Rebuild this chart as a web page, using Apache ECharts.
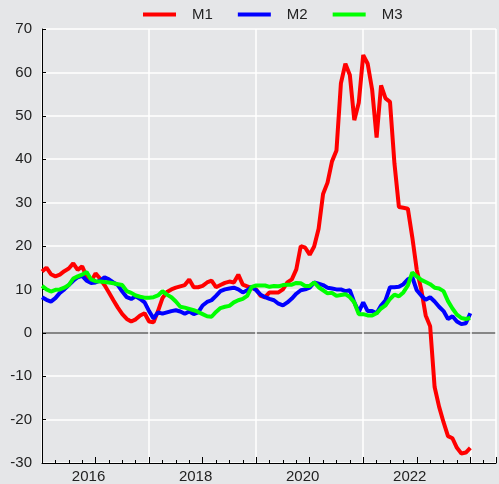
<!DOCTYPE html>
<html>
<head>
<meta charset="utf-8">
<script src="https://cdn.jsdelivr.net/npm/echarts@6/dist/echarts.min.js"></script>
<style>
  html, body { margin: 0; padding: 0; background: #e5e6e8; }
  #chart { width: 499px; height: 484px; }
</style>
</head>
<body>
<div id="chart"></div>
<script>
// monthly values, 2015-01 .. 2023-01
var startYear = 2015;
var yearLabels = [2016, 2018, 2020, 2022];

var m1 = [
  14.1, 15, 13.5, 13, 13.4, 14.2, 14.8, 16, 14.5, 15.3, 13, 11.8,
  13.7, 12.5, 11, 9.3, 7.5, 5.8, 4.3, 3.2, 2.6, 3.1, 4, 4.5,
  2.6, 2.4, 5, 8, 9.4, 10, 10.4, 10.7, 11, 12.3, 10.5, 10.5,
  10.8, 11.6, 12, 10.5, 11, 11.5, 11.8, 11.6, 13.4, 11.1, 10.7, 10.3,
  10, 8.5, 8.2, 9.3, 9.3, 9.3, 10, 11.6, 12.3, 14.6, 20, 19.6,
  18, 19.9, 24, 32, 34.6, 39.5, 42, 57.5, 62, 59.4, 49, 53,
  64, 62, 56, 45, 57, 54, 53.2, 39, 29, 28.8, 28.6, 22,
  14.5, 10, 4, 1.5, -12.5, -17, -20.6, -23.8, -24.3, -26.5, -27.8, -27.6,
  -26.5
];
var m2 = [
  8.2, 7.6, 7.2, 8, 9.2, 10, 11, 12, 12.8, 13.1, 12, 11.5,
  11.6, 12, 12.8, 12.3, 11.6, 11, 9.5, 8.2, 7.8, 8.4, 7.8, 7,
  5, 3.3, 4.7, 4.4, 4.7, 5, 5.2, 4.9, 4.4, 4.9, 4.3, 4.7,
  6.3, 7.1, 7.5, 8.5, 9.6, 10, 10.2, 10.4, 10, 9.3, 9.8, 10.6,
  9.8, 8.8, 8.2, 7.8, 7.5, 6.7, 6.3, 7, 7.9, 9, 9.8, 10,
  10.4, 11.6, 11.3, 11, 10.4, 10.2, 10, 10, 9.6, 9.8, 7, 4.8,
  7, 5, 5, 4.5, 6.3, 7.5, 10.5, 10.5, 10.6, 11.2, 12.3, 12.8,
  9.8, 8.6, 7.6, 8.2, 7.2, 6, 5, 3.2, 3.8, 2.6, 2, 2.2,
  4.5
];
var m3 = [
  10.8, 10, 9.5, 9.9, 10, 10.4, 11, 12.5, 13, 13.4, 14, 12.3,
  11.9, 11.8, 11.7, 11.6, 11.4, 11.2, 11, 9.6, 9.2, 8.6, 8.3, 8.1,
  8.1, 8.2, 8.6, 9.6, 8.8, 8.2, 7.2, 6, 5.8, 5.5, 5.2, 4.8,
  4.3, 3.8, 3.7, 4.8, 5.7, 6, 6.2, 7, 7.5, 7.8, 8.5, 10.6,
  10.9, 10.9, 10.9, 10.6, 10.8, 10.7, 11, 11.1, 11.1, 11.5, 11.4, 10.8,
  10.8, 11.6, 10.5, 9.8, 9.1, 9.2, 8.5, 8.7, 8.9, 8.2, 7, 4.3,
  4.3, 4, 4, 4.5, 5.6, 6.3, 7.8, 8.8, 8.4, 9.3, 10.9, 13.9,
  13, 12.2, 11.7, 11.2, 10.4, 10.2, 9.6, 7.3, 5.6, 4.2, 3.4, 3.2,
  3.4
];

function toPairs(vals) {
  return vals.map(function (v, i) {
    return [startYear + i / 12, v];
  });
}

var chart = echarts.init(document.getElementById('chart'));
var txt = '#222';
var font = 'Liberation Sans';

var opt = {
  backgroundColor: '#e5e6e8',
  animation: false,
  textStyle: { fontFamily: font },
  legend: {
    top: 7,
    left: 143,
    padding: 0,
    icon: 'rect',
    itemWidth: 33,
    itemHeight: 4,
    itemGap: 25,
    textStyle: { fontSize: 15, color: txt, padding: [0, 0, 0, 11] },
    data: ['M1', 'M2', 'M3']
  },
  grid: { left: 42, right: 0, top: 29, bottom: 20 },
  xAxis: [{
    type: 'value',
    min: 2015,
    max: 2023.48,
    interval: 1,
    axisLine: { show: true, onZero: false, lineStyle: { color: '#000', width: 1 } },
    axisTick: { show: true, inside: true, length: 6, lineStyle: { color: '#000' } },
    minorTick: { show: true, splitNumber: 4, length: 3, lineStyle: { color: '#000' } },
    splitLine: { show: false },
    axisLabel: {
      fontSize: 15,
      color: txt,
      margin: 6,
      padding: [0, 14, 0, 0],
      formatter: function (v) {
        return yearLabels.indexOf(v) >= 0 ? String(v) : '';
      }
    }
  }, {
    // only odd-year grid lines
    type: 'value',
    min: 2015,
    max: 2023.48,
    interval: 2,
    position: 'bottom',
    axisLine: { show: false },
    axisTick: { show: false },
    axisLabel: { show: false },
    splitLine: { show: true, lineStyle: { color: '#fff', width: 1.5 } }
  }],
  yAxis: {
    type: 'value',
    min: -30,
    max: 70,
    interval: 10,
    axisLine: { show: true, onZero: false, lineStyle: { color: '#000', width: 1 } },
    axisTick: { show: true, inside: true, length: 4, lineStyle: { color: '#000' } },
    axisLabel: { fontSize: 15, color: txt, margin: 10 },
    splitLine: {
      show: true,
      lineStyle: {
        color: ['#fff', '#fff', '#fff', '#666', '#fff', '#fff', '#fff', '#fff', '#fff', '#fff', '#fff'],
        width: 1.5
      }
    }
  },
  series: [{
    name: 'M1',
    type: 'line',
    data: toPairs(m1),
    showSymbol: false,
    itemStyle: { color: '#ff0000' },
    lineStyle: { color: '#ff0000', width: 4 }
  }, {
    name: 'M2',
    type: 'line',
    data: toPairs(m2),
    showSymbol: false,
    itemStyle: { color: '#0000ff' },
    lineStyle: { color: '#0000ff', width: 4 }
  }, {
    name: 'M3',
    type: 'line',
    data: toPairs(m3),
    showSymbol: false,
    itemStyle: { color: '#00ff00' },
    lineStyle: { color: '#00ff00', width: 4 }
  }]
};

chart.setOption(opt);
</script>
</body>
</html>
